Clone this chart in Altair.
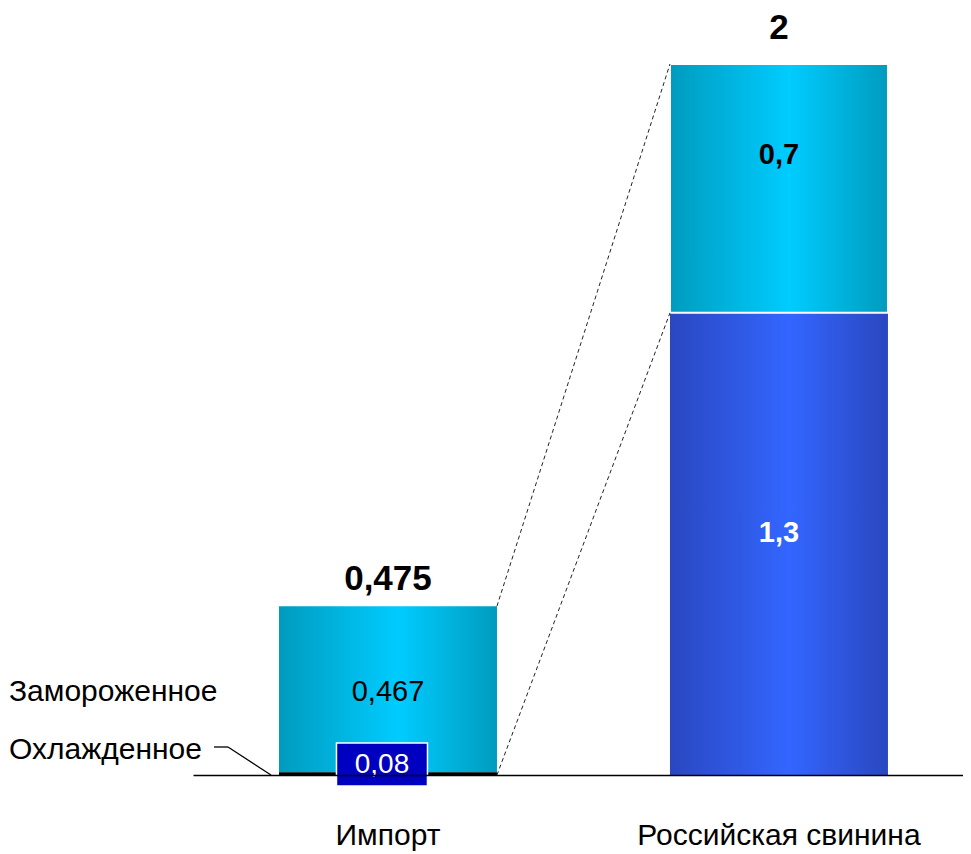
import altair as alt
import pandas as pd

# ---- data ----
categories = ["Импорт", "Российская свинина"]
seg_cat = ["Импорт", "Импорт", "Российская свинина", "Российская свинина"]
seg_key = ["chilled", "frozen", "rus_low", "rus_high"]
seg_val = [0.008, 0.467, 1.3, 0.7]
seg_lbl = ["0,08", "0,467", "1,3", "0,7"]
totals = [0.475, 2.0]
total_lbl = ["0,475", "2"]
legend_names = ["Замороженное", "Охлажденное"]

seg = pd.DataFrame({"cat": seg_cat, "key": seg_key, "val": seg_val, "lbl": seg_lbl})
seg["end"] = seg.groupby("cat")["val"].cumsum()
seg["start"] = seg["end"] - seg["val"]
seg["mid"] = (seg["start"] + seg["end"]) / 2
tot = pd.DataFrame({"cat": categories, "total": totals, "lbl": total_lbl})

# connector lines (import bar -> russian bar)
conn = pd.DataFrame({
    "c1": ["Импорт", "Импорт"],
    "c2": ["Российская свинина", "Российская свинина"],
    "y1": [totals[0], 0.0],
    "y2": [totals[1], seg_val[2]],
})

FONT = "Liberation Sans"

xscale = alt.Scale(domain=categories, paddingInner=0.4425, paddingOuter=0.2059, align=0.534)
yscale = alt.Scale(domain=[0, 2], nice=False, zero=True)

X = alt.X("cat:N", scale=xscale, sort=categories,
          axis=alt.Axis(title=None, ticks=False, labelAngle=0, labelFont=FONT,
                        labelFontSize=30, labelColor="black", labelPadding=60,
                        labelBaseline="middle", domainColor="black", domainWidth=1.5,
                        zindex=1, labelLimit=500, grid=False))
Y = alt.Y("start:Q", scale=yscale, axis=None)


def grad(edge, mid):
    return alt.Gradient(gradient="linear", x1=0, x2=1, y1=0, y2=0,
                        stops=[alt.GradientStop(color=edge, offset=0),
                               alt.GradientStop(color=mid, offset=0.55),
                               alt.GradientStop(color=edge, offset=1)])


cyan = grad("#009BBE", "#00CCFF")
blue = grad("#2A47C0", "#3366FF")

base = alt.Chart(seg)


def bar_layer(key, color, **kw):
    return base.transform_filter(alt.datum.key == key).mark_bar(color=color, **kw).encode(
        x=X, y=Y, y2="end:Q")


bars = [
    bar_layer("frozen", cyan),
    bar_layer("chilled", "black"),
    bar_layer("rus_low", blue),
    bar_layer("rus_high", cyan, stroke="white", strokeWidth=2),
]

connectors = alt.Chart(conn).mark_rule(color="#222222", strokeDash=[4, 3], strokeWidth=1).encode(
    x=alt.X("c1:N", scale=xscale, bandPosition=1),
    x2=alt.X2("c2:N", bandPosition=0),
    y=alt.Y("y1:Q", scale=yscale),
    y2="y2:Q",
)

# segment labels
lbl_frozen = base.transform_filter(alt.datum.key == "frozen").mark_text(
    font=FONT, fontSize=29, color="black", dy=3).encode(
    x=alt.X("cat:N", scale=xscale), y=alt.Y("mid:Q", scale=yscale), text="lbl:N")
lbl_high = base.transform_filter(alt.datum.key == "rus_high").mark_text(
    font=FONT, fontSize=29, fontWeight="bold", color="black", dy=-33).encode(
    x=alt.X("cat:N", scale=xscale), y=alt.Y("mid:Q", scale=yscale), text="lbl:N")
lbl_low = base.transform_filter(alt.datum.key == "rus_low").mark_text(
    font=FONT, fontSize=29, fontWeight="bold", color="white", dy=-11).encode(
    x=alt.X("cat:N", scale=xscale), y=alt.Y("mid:Q", scale=yscale), text="lbl:N")

# chilled label in a dark-blue box
chill_box = base.transform_filter(alt.datum.key == "chilled").mark_bar(
    color="#0000C0", stroke="white", strokeWidth=1.5, width=91, xOffset=-6).encode(
    x=alt.X("cat:N", scale=xscale), y=alt.value(679), y2=alt.value(722))
chill_txt = base.transform_filter(alt.datum.key == "chilled").mark_text(
    font=FONT, fontSize=28, color="white", xOffset=-6).encode(
    x=alt.X("cat:N", scale=xscale), y=alt.value(701), text="lbl:N")

# totals
tot_base = alt.Chart(tot)
tot_imp = tot_base.transform_filter(alt.datum.cat == categories[0]).mark_text(
    font=FONT, fontSize=35, fontWeight="bold", color="black", dy=-27).encode(
    x=alt.X("cat:N", scale=xscale), y=alt.Y("total:Q", scale=yscale), text="lbl:N")
tot_rus = tot_base.transform_filter(alt.datum.cat == categories[1]).mark_text(
    font=FONT, fontSize=35, fontWeight="bold", color="black", dy=-36).encode(
    x=alt.X("cat:N", scale=xscale), y=alt.Y("total:Q", scale=yscale), text="lbl:N")

# left-hand legend labels
leg_frozen = base.transform_filter(alt.datum.key == "frozen").mark_text(
    font=FONT, fontSize=30, color="black", align="left", dy=3).encode(
    x=alt.value(-184), y=alt.Y("mid:Q", scale=yscale),
    text=alt.value(legend_names[0]))
leg_chilled = alt.Chart(pd.DataFrame({"t": [legend_names[1]]})).mark_text(
    font=FONT, fontSize=30, color="black", align="left").encode(
    x=alt.value(-184), y=alt.value(686), text="t:N")
leader1 = alt.Chart(pd.DataFrame({"a": [0]})).mark_rule(color="black", strokeWidth=1.3).encode(
    x=alt.value(21), x2=alt.value(35), y=alt.value(683), y2=alt.value(683))
leader2 = alt.Chart(pd.DataFrame({"a": [0]})).mark_rule(color="black", strokeWidth=1.3).encode(
    x=alt.value(35), x2=alt.value(78), y=alt.value(683), y2=alt.value(711))

chart = alt.layer(
    *bars, connectors, lbl_frozen, lbl_high, lbl_low, chill_box, chill_txt,
    tot_imp, tot_rus, leg_frozen, leg_chilled, leader1, leader2,
).properties(
    width=770, height=711,
    padding={"left": 185, "top": 56, "right": 0, "bottom": 76},
    autosize=alt.AutoSizeParams(type="none"),
    background="white",
).configure_view(stroke=None)

chart.save("out.html", embed_options={"renderer": "svg", "actions": False})
